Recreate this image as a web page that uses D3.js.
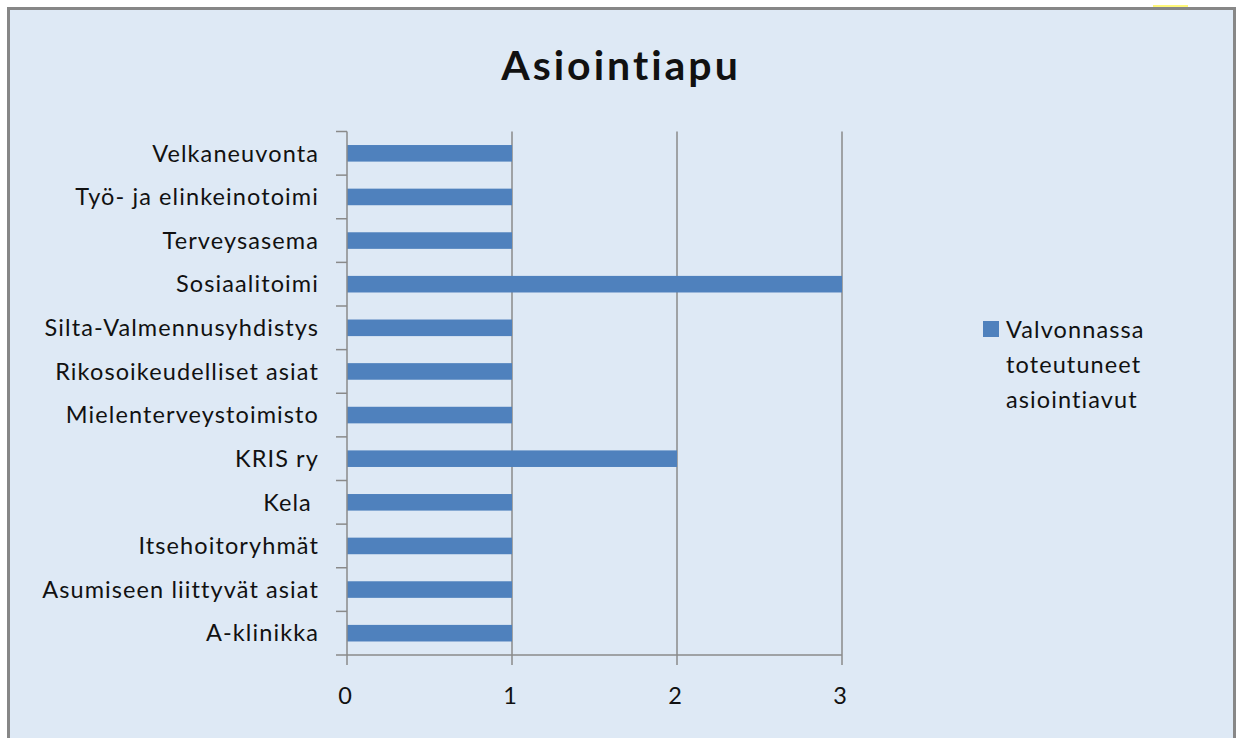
<!DOCTYPE html>
<html>
<head>
<meta charset="utf-8">
<script src="https://cdn.jsdelivr.net/npm/d3@7"></script>
<style>
  html, body { margin: 0; padding: 0; background: #fff; }
  svg { display: block; }
  text { font-family: Lato, "Open Sans", sans-serif; fill: #111; font-variant-ligatures: none; }
</style>
</head>
<body>
<svg width="1239" height="738"></svg>
<script>
'use strict';

/* Chart data, top to bottom. */
var categories = [
  'Velkaneuvonta',
  'Työ- ja elinkeinotoimi',
  'Terveysasema',
  'Sosiaalitoimi',
  'Silta-Valmennusyhdistys',
  'Rikosoikeudelliset asiat',
  'Mielenterveystoimisto',
  'KRIS ry',
  'Kela ',
  'Itsehoitoryhmät',
  'Asumiseen liittyvät asiat',
  'A-klinikka'
];
var values = [1, 1, 1, 3, 1, 1, 1, 2, 1, 1, 1, 1];
var xTicks = [0, 1, 2, 3];
var title = 'Asiointiapu';
var legendLines = ['Valvonnassa', 'toteutuneet', 'asiointiavut'];

var svg = d3.select('svg');

/* Chart frame. */
svg.append('rect')
  .attr('x', 8.5).attr('y', 8.5)
  .attr('width', 1226).attr('height', 740)
  .attr('fill', '#dee9f5')
  .attr('stroke', '#878787')
  .attr('stroke-width', 3);

/* Small highlight mark at the top edge. */
svg.append('rect')
  .attr('x', 1153).attr('y', 5)
  .attr('width', 35).attr('height', 2)
  .attr('fill', '#fff87a');

/* Title. */
svg.append('text')
  .attr('x', 621).attr('y', 80)
  .attr('text-anchor', 'middle')
  .style('font-size', '41px')
  .style('font-weight', 'bold')
  .style('letter-spacing', '3px')
  .text(title);

var plot = {left: 347, right: 842, top: 131.5, bottom: 655};

var x = d3.scaleLinear()
  .domain([0, 3])
  .range([plot.left, plot.right]);

var y = d3.scaleBand()
  .domain(categories)
  .range([plot.top, plot.bottom])
  .paddingInner(0.62)
  .paddingOuter(0.31);

/* Boundaries of each category slot, for the y tick marks. */
var step = (plot.bottom - plot.top) / categories.length;
var slots = d3.range(categories.length + 1);

/* Vertical gridlines. */
svg.append('g')
  .selectAll('line')
  .data(xTicks.slice(1))
  .enter()
  .append('line')
  .attr('x1', x).attr('x2', x)
  .attr('y1', plot.top).attr('y2', plot.bottom)
  .attr('stroke', '#8a8a8a')
  .attr('stroke-width', 1.5);

/* Bars. */
svg.append('g')
  .selectAll('rect')
  .data(values)
  .enter()
  .append('rect')
  .attr('x', x(0))
  .attr('y', function (d, i) { return y(categories[i]); })
  .attr('width', function (d) { return x(d) - x(0); })
  .attr('height', y.bandwidth())
  .attr('fill', '#4f81bd');

/* Y axis line and tick marks. */
var yAxis = svg.append('g');
yAxis.append('line')
  .attr('x1', plot.left).attr('x2', plot.left)
  .attr('y1', plot.top).attr('y2', plot.bottom)
  .attr('stroke', '#8a8a8a')
  .attr('stroke-width', 1.5);
yAxis.selectAll('.tick')
  .data(slots)
  .enter()
  .append('line')
  .attr('x1', plot.left - 11).attr('x2', plot.left)
  .attr('y1', function (i) { return plot.top + i * step; })
  .attr('y2', function (i) { return plot.top + i * step; })
  .attr('stroke', '#8a8a8a')
  .attr('stroke-width', 1.5);

/* Category labels. */
yAxis.selectAll('text')
  .data(categories)
  .enter()
  .append('text')
  .attr('x', 319)
  .attr('y', function (d) { return y(d) + y.bandwidth() / 2; })
  .attr('dy', '0.35em')
  .attr('text-anchor', 'end')
  .style('font-size', '23.5px')
  .style('letter-spacing', '1.1px')
  .style('white-space', 'pre')
  .text(function (d) { return d; });

/* X axis line, ticks and labels. */
var xAxis = svg.append('g');
xAxis.append('line')
  .attr('x1', plot.left).attr('x2', plot.right)
  .attr('y1', plot.bottom).attr('y2', plot.bottom)
  .attr('stroke', '#8a8a8a')
  .attr('stroke-width', 1.5);
xAxis.selectAll('.tick')
  .data(xTicks)
  .enter()
  .append('line')
  .attr('x1', x).attr('x2', x)
  .attr('y1', plot.bottom).attr('y2', plot.bottom + 10)
  .attr('stroke', '#8a8a8a')
  .attr('stroke-width', 1.5);
xAxis.selectAll('text')
  .data(xTicks)
  .enter()
  .append('text')
  .attr('x', function (d) { return x(d) - 2; })
  .attr('y', 704)
  .attr('text-anchor', 'middle')
  .style('font-size', '23.5px')
  .text(function (d) { return d; });

/* Legend. */
var legend = svg.append('g');
legend.append('rect')
  .attr('x', 983).attr('y', 321)
  .attr('width', 16).attr('height', 16)
  .attr('fill', '#4f81bd');
legend.selectAll('text')
  .data(legendLines)
  .enter()
  .append('text')
  .attr('x', 1006)
  .attr('y', function (d, i) { return 338 + i * 35; })
  .style('font-size', '23.5px')
  .style('letter-spacing', '1.1px')
  .text(function (d) { return d; });
</script>
</body>
</html>
